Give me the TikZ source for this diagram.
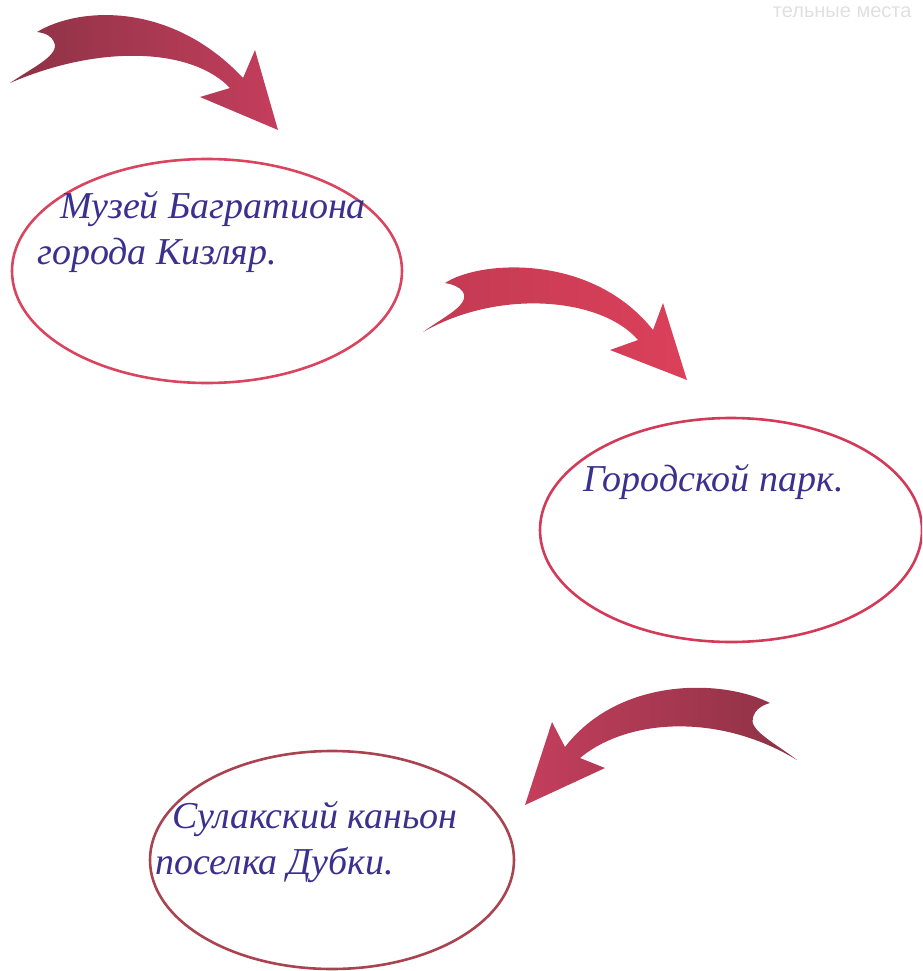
\documentclass[tikz,border=0pt]{standalone}
\usepackage{fontspec}
\setmainfont{Liberation Serif}
\setsansfont{Liberation Sans}
\usepackage{tikz}
\usepackage{xcolor}
\usetikzlibrary{shapes.geometric}
\definecolor{inkcolor}{HTML}{3B2F8F}
\definecolor{ringa}{HTML}{D9445E}
\definecolor{ringb}{HTML}{D33A57}
\definecolor{ringc}{HTML}{A8434F}
\definecolor{arrowdark}{HTML}{8C3246}
\definecolor{arrowlight}{HTML}{C43E5C}
\definecolor{arrowreda}{HTML}{C23A52}
\definecolor{arrowredb}{HTML}{DC405A}
\colorlet{faintcolor}{black!12}
\tikzstyle{place} = [
    ellipse,
    line width=2.6pt,
    inner sep=0pt
    ]
\tikzstyle{hand} = [
    text=inkcolor,
    font=\itshape\fontsize{38}{46}\selectfont,
    align=left,
    inner sep=0pt,
    anchor=north west
    ]

\begin{document}
\begin{tikzpicture}[x=1pt,y=-1pt]
\useasboundingbox (0,0) rectangle (922,971);
\clip (0,0) rectangle (922,971);
\node[text=faintcolor, font=\sffamily\fontsize{20}{20}\selectfont, anchor=east] (header) at (915,12) {тельные места};

% places
\node[place, draw=ringa, minimum width=390pt, minimum height=224pt] (muzej) at (207,271) {};
\node[place, draw=ringb, minimum width=382pt, minimum height=224pt] (park) at (731,530) {};
\node[place, draw=ringc, minimum width=364pt, minimum height=218pt] (kanjon) at (332,860) {};

\node[hand] (muzejtxt) at (37,191) {\hspace*{23pt}Музей Багратиона\\города Кизляр.};
\node[hand] (parktxt) at (583,464) {Городской парк.};
\node[hand] (kanjontxt) at (155,801) {\hspace*{17pt}Сулакский каньон\\поселка Дубки.};

% arrows
\shade[left color=arrowdark, right color=arrowlight]
  (37,32) .. controls (80,6) and (172,2) .. (243,78)
  -- (255,50) -- (278,130) -- (200,97) -- (230,88)
  .. controls (192,48) and (100,44) .. (10,83)
  .. controls (35,66) and (60,55) .. (54,42)
  .. controls (52,36) and (45,33) .. cycle;
\shade[left color=arrowreda, right color=arrowredb]
  (445,283) .. controls (480,260) and (592,253) .. (653,330)
  -- (663,303) -- (687,380) -- (610,350) -- (638,340)
  .. controls (602,298) and (500,288) .. (423,332)
  .. controls (445,316) and (470,305) .. (463,292)
  .. controls (460,287) and (452,284) .. cycle;
\shade[left color=arrowlight, right color=arrowdark]
  (770,703) .. controls (720,678) and (618,678) .. (565,747)
  -- (552,722) -- (525,805) -- (605,768) -- (580,758)
  .. controls (628,718) and (720,713) .. (797,760)
  .. controls (775,743) and (748,730) .. (753,717)
  .. controls (755,710) and (762,705) .. cycle;
\end{tikzpicture}
\end{document}
